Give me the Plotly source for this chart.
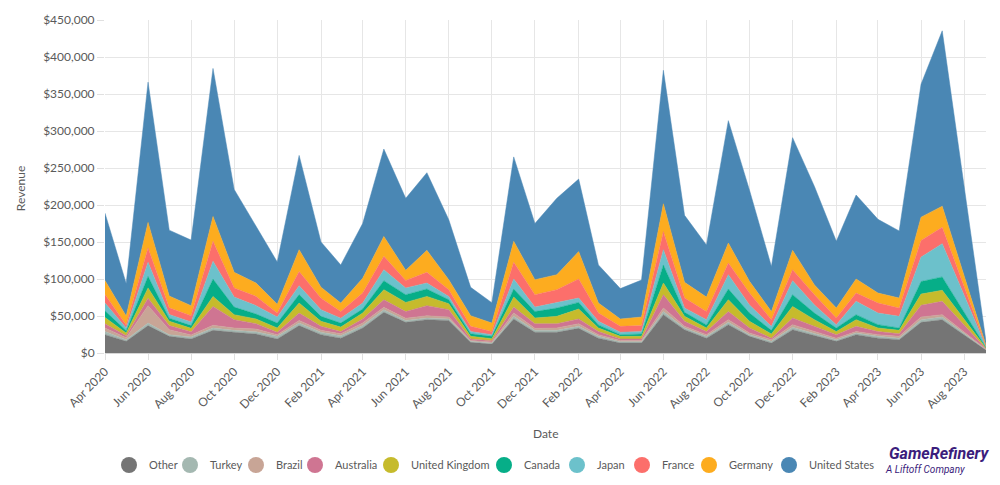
import pandas as pd
import plotly.graph_objects as go

months = list(pd.date_range("2020-04-01", "2023-07-01", freq="MS").strftime("%Y-%m-%d")) + ["2023-09-01"]

other = [24800, 15800, 37000, 22500, 19000, 30600, 28000, 25700, 19000, 37000, 24800, 20000, 33800, 55000,
         41400, 45000, 44000, 14400, 12000, 46000, 28000, 28000, 33300, 20000, 13500, 13500, 51800, 31500,
         20000, 38300, 22500, 13500, 31500, 23400, 15800, 24800, 20000, 18000, 41400, 45000, 4000]
turkey = [4200, 2200, 3500, 2300, 2600, 3200, 2600, 3100, 3500, 3500, 3200, 3400, 3200, 3500,
          2600, 2300, 2000, 1400, 1500, 3500, 2600, 2600, 2700, 2500, 1800, 1800, 4200, 2300,
          2500, 3100, 2300, 2300, 3200, 2600, 2200, 2200, 2500, 2000, 3600, 3600, 500]
brazil = [4800, 2700, 23500, 6700, 2700, 3600, 3200, 3600, 2300, 3500, 2600, 2600, 3500, 3200,
          3000, 3100, 2600, 1200, 1400, 4500, 2700, 3200, 3600, 2300, 1700, 1700, 4800, 2200,
          2300, 3600, 2200, 2200, 3600, 3000, 2000, 2000, 2300, 2500, 3600, 3200, 500]
australia = [5800, 2700, 10000, 5500, 4500, 25600, 11200, 7200, 3200, 10000, 5400, 3000, 5500, 10300,
             9000, 13600, 9900, 2000, 1800, 8000, 6300, 5800, 6400, 4200, 2000, 2000, 18000, 6800,
             4200, 11000, 6800, 2000, 9000, 7000, 4800, 7000, 4200, 3500, 16000, 18000, 800]
united_kingdom = [8400, 3600, 14000, 6000, 4500, 13500, 6800, 6400, 5800, 13500, 6800, 6000, 8000, 13600,
                  12400, 12500, 8100, 3500, 2700, 13600, 7700, 9900, 13400, 4800, 3500, 3500, 15800, 6700,
                  4800, 16000, 9000, 5700, 15700, 9000, 4200, 9000, 4800, 4600, 15000, 15000, 800]
canada = [9000, 3000, 15600, 4000, 3700, 23500, 10200, 6700, 6700, 11500, 6700, 5500, 5400, 12100,
          10400, 10000, 5400, 3500, 3100, 10900, 8700, 11300, 9000, 4200, 2300, 3200, 24400, 5500,
          4200, 14500, 11200, 4900, 15800, 9000, 4800, 6800, 4500, 3200, 17000, 18000, 800]
japan = [10500, 3800, 18900, 5000, 5000, 24000, 13600, 11300, 8100, 12000, 9000, 6500, 8100, 14900,
         9000, 8100, 4500, 3000, 2300, 13500, 6000, 7600, 5900, 4800, 3200, 3300, 20600, 5800,
         7000, 19300, 11000, 5400, 18900, 11000, 4500, 18000, 15700, 15700, 33000, 45000, 1000]
france = [11500, 4200, 19500, 9000, 8400, 27000, 12200, 12500, 5400, 19000, 15500, 9000, 13500, 18000,
          10200, 14400, 9100, 7000, 4200, 22500, 16800, 17200, 25700, 11200, 8000, 8000, 24400, 13500,
          11000, 15800, 16000, 9000, 14900, 13800, 9000, 11200, 13500, 11300, 22500, 22100, 1000]
germany = [19000, 12000, 34500, 16000, 13600, 33600, 21200, 18000, 12000, 29600, 15000, 11500, 20000, 27000,
           13700, 29700, 13400, 14400, 11500, 28400, 20200, 20200, 37000, 13500, 10000, 11600, 37700, 21200,
           19600, 27000, 15800, 11000, 26100, 13200, 13500, 19000, 13500, 13500, 31500, 28500, 1000]
united_states = [91000, 44000, 189500, 89000, 88600, 200000, 112000, 76500, 57000, 127400, 61000, 51500, 74000, 118000,
                 97300, 104900, 81000, 38300, 27500, 114100, 76000, 103200, 98000, 51500, 41000, 50000, 180300, 90500,
                 70400, 165400, 123200, 61000, 152300, 133000, 90200, 113500, 99600, 90700, 179700, 237000, 5000]

series = [
    ("Other", other, "#757575"),
    ("Turkey", turkey, "#a4b8b1"),
    ("Brazil", brazil, "#c8a596"),
    ("Australia", australia, "#cf7592"),
    ("United Kingdom", united_kingdom, "#c6bb2c"),
    ("Canada", canada, "#06ae88"),
    ("Japan", japan, "#6cc1cb"),
    ("France", france, "#fc6f6b"),
    ("Germany", germany, "#fdac1f"),
    ("United States", united_states, "#4a87b4"),
]
# left edge (container fraction) of each legend entry
legend_x = [0.109, 0.170, 0.236, 0.295, 0.371, 0.484, 0.557, 0.622, 0.689, 0.769]

FONT = "Lato, 'Open Sans', sans-serif"
TXT = "#5a5a5a"

fig = go.Figure()
for name, vals, col in series:
    fig.add_trace(go.Scatter(
        x=months, y=vals, name=name, mode="lines", stackgroup="one",
        line=dict(width=0.5, color=col), fillcolor=col, showlegend=False,
    ))

legend_layout = {}
for i, ((name, vals, col), lx) in enumerate(zip(series, legend_x)):
    lid = "legend" if i == 0 else f"legend{i + 1}"
    fig.add_trace(go.Scatter(
        x=[None], y=[None], name=name, mode="markers", legend=lid,
        marker=dict(symbol="circle", size=16, color=col), showlegend=True,
    ))
    legend_layout[lid] = dict(
        orientation="h", xref="container", yref="container",
        x=lx, xanchor="left", y=0.0412, yanchor="middle",
        font=dict(size=11, color=TXT), itemsizing="trace",
        bgcolor="rgba(0,0,0,0)", borderwidth=0,
    )

fig.update_layout(
    width=1000, height=485,
    margin=dict(l=105, r=14, t=20, b=132),
    paper_bgcolor="white", plot_bgcolor="white",
    font=dict(family=FONT, size=12, color=TXT),
    xaxis=dict(
        type="date", range=["2020-04-01", "2023-09-01"], automargin=False,
        tick0="2020-04-01", dtick="M2", tickformat="%b %Y", tickangle=-45,
        showgrid=True, gridcolor="#e6e6e6", gridwidth=1,
        ticks="outside", ticklen=6, tickcolor="#e0e0e0",
        showline=True, linecolor="#d6d6d6", linewidth=1,
        tickfont=dict(size=12, color=TXT),
        zeroline=False,
    ),
    yaxis=dict(
        range=[0, 450000], dtick=50000, tickformat="$,.0f", automargin=False,
        showgrid=True, gridcolor="#e6e6e6", gridwidth=1,
        ticks="outside", ticklen=7, tickcolor="#e0e0e0",
        tickfont=dict(size=12, color=TXT),
        zeroline=False,
    ),
    **legend_layout,
)

fig.add_annotation(
    xref="paper", yref="paper", x=-0.0965, y=0.495, xanchor="center", yanchor="middle",
    text="Revenue", textangle=-90, showarrow=False, font=dict(size=12, color=TXT),
)
fig.add_annotation(
    xref="paper", yref="paper", x=0.5, y=-0.243, xanchor="center", yanchor="middle",
    text="Date", showarrow=False, font=dict(size=12, color=TXT),
)
fig.add_annotation(
    xref="paper", yref="paper", x=1.0057, y=-0.303, xanchor="right", yanchor="middle",
    text="<b><i>GameRefinery</i></b>", showarrow=False,
    font=dict(family="Roboto, sans-serif", size=16, color="#3b1d7c"),
)
fig.add_annotation(
    xref="paper", yref="paper", x=0.978, y=-0.351, xanchor="right", yanchor="middle",
    text="<i>A Liftoff Company</i>", showarrow=False,
    font=dict(family="Roboto, sans-serif", size=10, color="#3b1d7c"),
)

fig.write_html(
    "out.html",
    config={"displayModeBar": False},
    post_script="document.body.style.margin='0';document.body.style.overflow='hidden';",
)
